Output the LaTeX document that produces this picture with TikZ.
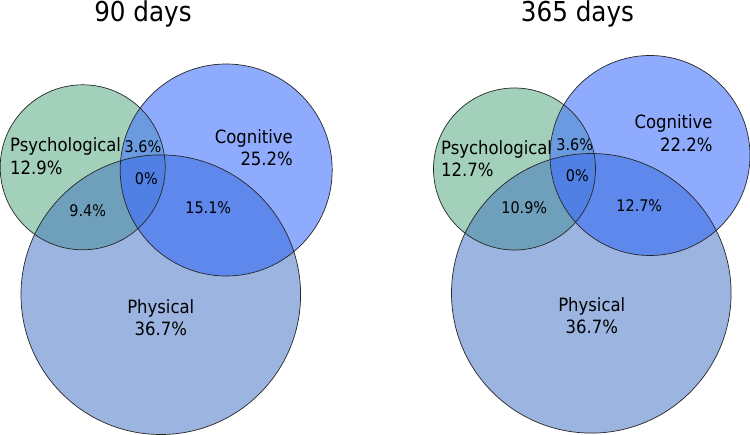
\documentclass[tikz,border=0pt]{standalone}
\usepackage{fontspec}
\setmainfont{DejaVu Sans Condensed}
\definecolor{psyc}{HTML}{A3D0BA}
\definecolor{cogc}{HTML}{8FABFE}
\definecolor{phyc}{HTML}{9CB4E0}
\definecolor{pscog}{HTML}{6A9BE0}
\definecolor{psphy}{HTML}{6FA0BB}
\definecolor{cgphy}{HTML}{5E88EC}
\definecolor{tric}{HTML}{5080E4}
\newcommand\myvenn[9]{%
  \fill[psyc] (#1,#2) circle[radius=#3pt];
  \fill[cogc] (#4,#5) circle[radius=#6pt];
  \fill[phyc] (#7,#8) circle[radius=#9pt];
  \begin{scope}\clip (#4,#5) circle[radius=#6pt];
    \fill[cgphy] (#7,#8) circle[radius=#9pt];\end{scope}
  \begin{scope}\clip (#1,#2) circle[radius=#3pt];
    \fill[pscog] (#4,#5) circle[radius=#6pt];
    \fill[psphy] (#7,#8) circle[radius=#9pt];
    \clip (#4,#5) circle[radius=#6pt];
    \fill[tric] (#7,#8) circle[radius=#9pt];\end{scope}
  \draw[ring] (#1,#2) circle[radius=#3pt];
  \draw[ring] (#4,#5) circle[radius=#6pt];
  \draw[ring] (#7,#8) circle[radius=#9pt];
}
\begin{document}
\begin{tikzpicture}[x=1pt,y=-1pt,
  ring/.style={draw=black!85,line width=0.7pt},
  ttl/.style={inner sep=0pt,font=\fontsize{27.4}{30}\selectfont},
  big/.style={inner sep=0pt,font=\fontsize{18.3}{22}\selectfont},
  sml/.style={inner sep=0pt,font=\fontsize{16}{19}\selectfont}]
\useasboundingbox (0,0) rectangle (750,435);
\fill[white] (0,0) rectangle (750,435);
% left panel: 90 days
\myvenn{82.7}{167.3}{82.5}{226.2}{170}{106}{160.8}{294.7}{139.8}
\node[ttl,anchor=base] (t1) at (143,21.7) {90 days};
\node[big,anchor=base west] (l1a) at (10,151.7) {Psychological};
\node[big,anchor=base west] (l1b) at (10,174.3) {12.9\%};
\node[big,anchor=base east] (l1c) at (293,144) {Cognitive};
\node[big,anchor=base east] (l1d) at (293,165.7) {25.2\%};
\node[big,anchor=base] (l1e) at (160.8,314) {Physical};
\node[big,anchor=base] (l1f) at (160.8,336) {36.7\%};
\node[sml,anchor=base] (l1g) at (143,152.7) {3.6\%};
\node[sml,anchor=base] (l1h) at (146.3,184.3) {0\%};
\node[sml,anchor=base] (l1i) at (87.7,216.7) {9.4\%};
\node[sml,anchor=base] (l1j) at (208.3,214) {15.1\%};
% right panel: 365 days
\myvenn{514.5}{169}{81}{650}{155.5}{100}{591.3}{293.3}{139.8}
\node[ttl,anchor=base] (t2) at (577.5,21.7) {365 days};
\node[big,anchor=base west] (r1a) at (441,155) {Psychological};
\node[big,anchor=base west] (r1b) at (441,176.7) {12.7\%};
\node[big,anchor=base east] (r1c) at (712.7,129) {Cognitive};
\node[big,anchor=base east] (r1d) at (712.7,151.7) {22.2\%};
\node[big,anchor=base] (r1e) at (591.8,311.7) {Physical};
\node[big,anchor=base] (r1f) at (591.8,334) {36.7\%};
\node[sml,anchor=base] (r1g) at (574.7,151) {3.6\%};
\node[sml,anchor=base] (r1h) at (577.3,182) {0\%};
\node[sml,anchor=base] (r1i) at (524.3,213.3) {10.9\%};
\node[sml,anchor=base] (r1j) at (639.3,212) {12.7\%};
\end{tikzpicture}
\end{document}
